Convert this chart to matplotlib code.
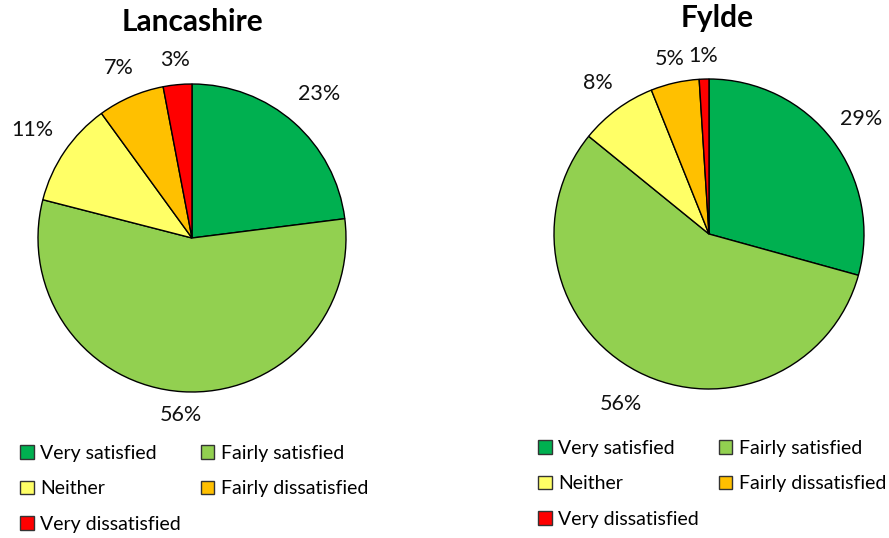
import numpy as np
import matplotlib
matplotlib.use("Agg")
import matplotlib.pyplot as plt
from matplotlib.patches import Patch

categories = ["Very satisfied", "Fairly satisfied", "Neither", "Fairly dissatisfied", "Very dissatisfied"]
lancashire = [23, 56, 11, 7, 3]
fylde = [29, 56, 8, 5, 1]
colors = ["#00B050", "#92D050", "#FFFF66", "#FFC000", "#FF0000"]

plt.rcParams["font.family"] = ["Lato", "DejaVu Sans"]

W, H = 889, 538
fig = plt.figure(figsize=(W / 100, H / 100), dpi=100)
ax = fig.add_axes([0, 0, 1, 1])

def draw(values, title, cx, cy, r, label_dist, title_xy, leg_xy):
    wedges, _, autotexts = ax.pie(values, colors=colors, startangle=90, counterclock=False,
                                  center=(cx, H - cy), radius=r, autopct="%d%%", pctdistance=1.2,
                                  wedgeprops=dict(edgecolor="black", linewidth=1),
                                  textprops=dict(fontsize=15.5, color="#111111"), frame=True)
    # push labels out like Excel's best-fit placement
    for w, t, f in zip(wedges, autotexts, label_dist):
        mid = np.deg2rad((w.theta1 + w.theta2) / 2)
        t.set_position((cx + f * r * np.cos(mid), H - cy + f * r * np.sin(mid)))
    ax.text(title_xy[0], H - title_xy[1], title, ha="center", va="center",
            fontsize=21.5, fontweight="bold")
    handles = [Patch(facecolor=c, edgecolor="#333333", linewidth=1) for c in colors]
    order = [0, 2, 4, 1, 3]
    fig.legend([handles[i] for i in order], [categories[i] for i in order],
               ncol=2, loc="upper left", bbox_to_anchor=(leg_xy[0] / W, 1 - leg_xy[1] / H),
               frameon=False, fontsize=14, handlelength=0.7, handleheight=0.7,
               handletextpad=0.35, columnspacing=1.0, labelspacing=0.95,
               borderaxespad=0, borderpad=0)

draw(lancashire, "Lancashire", 192, 238, 154, [1.25, 1.15, 1.25, 1.2, 1.16], (192, 22), (20, 445))
draw(fylde, "Fylde", 709, 234, 155, [1.23, 1.235, 1.21, 1.16, 1.15], (717, 18), (538, 440))
ax.set_xlim(0, W); ax.set_ylim(0, H); ax.set_aspect("equal"); ax.axis("off")

fig.savefig("out.png", dpi=100)
